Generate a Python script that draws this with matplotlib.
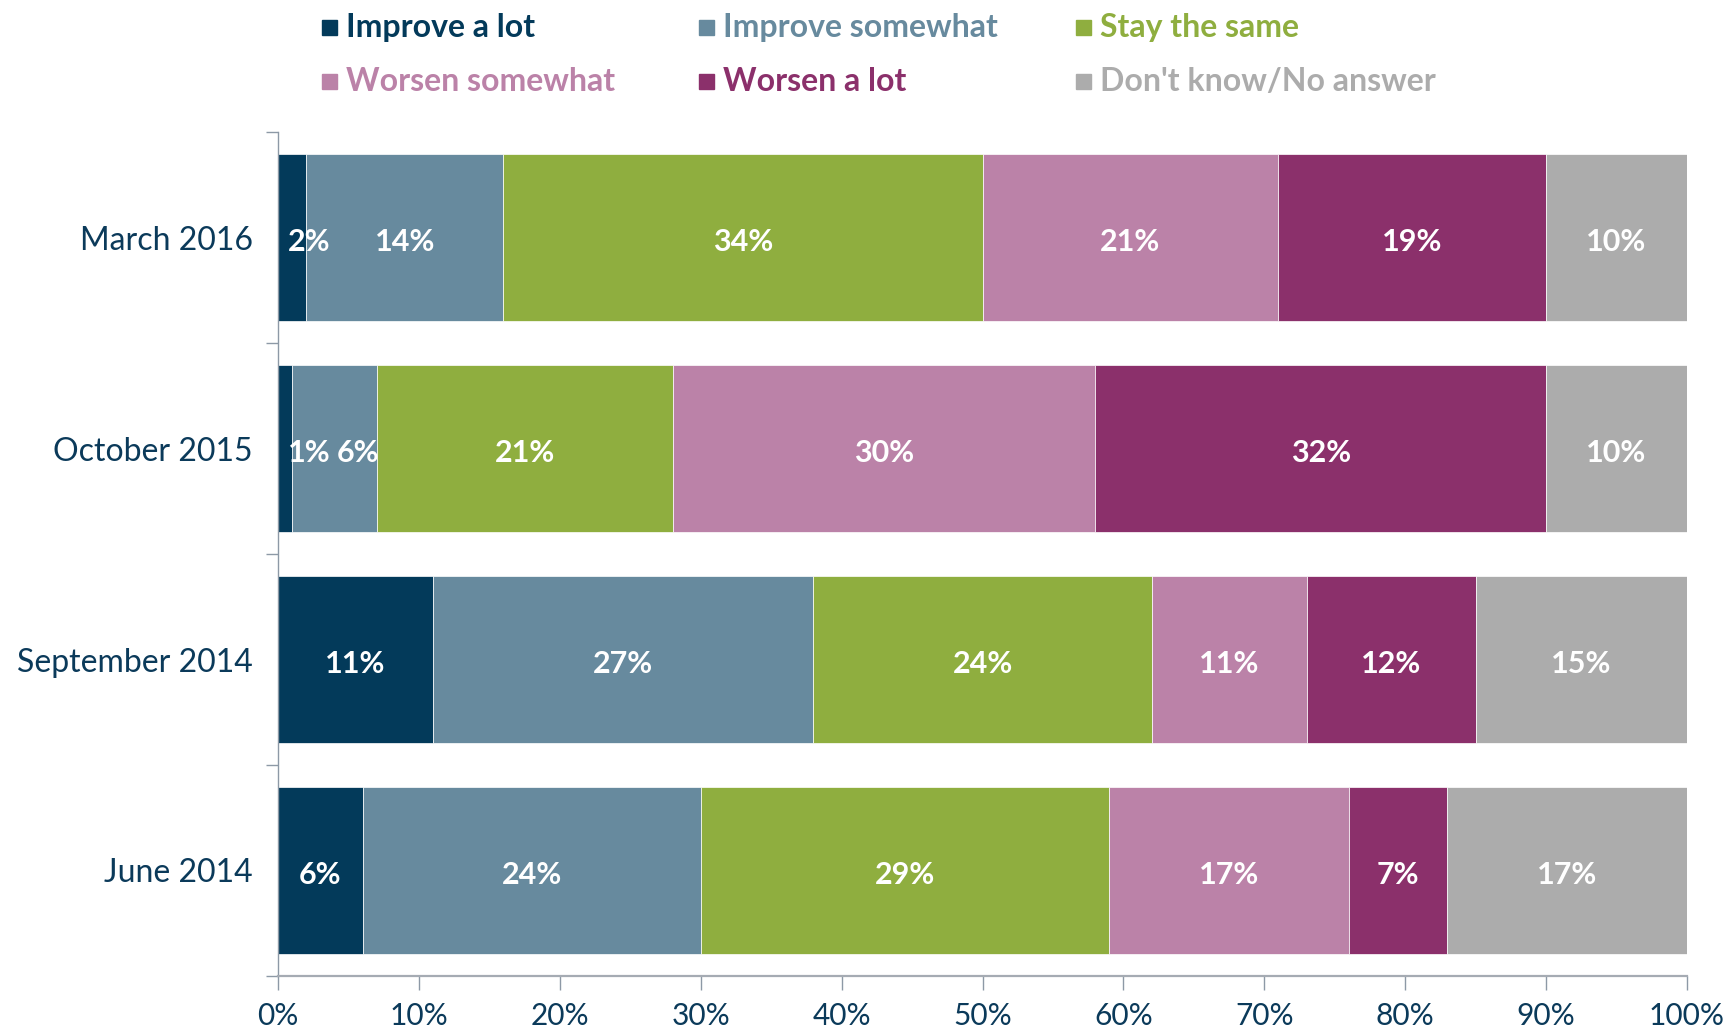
import matplotlib.pyplot as plt
import numpy as np
from matplotlib.patches import Rectangle

''' Data '''
periods = ["March 2016", "October 2015", "September 2014", "June 2014"]
series = ["Improve a lot", "Improve somewhat", "Stay the same",
          "Worsen somewhat", "Worsen a lot", "Don't know/No answer"]
improve_lot = [2, 1, 11, 6]
improve_some = [14, 6, 27, 24]
stay_same = [34, 21, 24, 29]
worsen_some = [21, 30, 11, 17]
worsen_lot = [19, 32, 12, 7]
dont_know = [10, 10, 15, 17]
x_ticks = [0, 10, 20, 30, 40, 50, 60, 70, 80, 90, 100]

''' Customize '''
colors = ["#033a5a", "#678a9e", "#8fae3f", "#bb82a8", "#8b306b", "#acacac"]
navy = "#0b3a5a"
axis_grey = "#8d99a6"
fnt = "Lato"
fs_leg = 23
fs_cat = 23
fs_x = 21.5
fs_bar = 22

values = np.array([improve_lot, improve_some, stay_same,
                   worsen_some, worsen_lot, dont_know], dtype=float)

W, H = 1727, 1031
fig = plt.figure(figsize=(W / 100, H / 100), dpi=100)
ax = fig.add_axes([278 / W, 1 - 976 / H, 1409 / W, 844 / H])

ypos = np.arange(len(periods))[::-1]
left = np.zeros(len(periods))
for k, name in enumerate(series):
    ax.barh(ypos, values[k], left=left, height=0.79, color=colors[k],
            edgecolor="white", linewidth=0.5, label=name)
    left += values[k]

# value labels, nudged right when small ones would collide
char_w = 1.5  # approx width per character in data units
for j in range(len(periods)):
    start = 0.0
    prev_right = -10.0
    for k in range(len(series)):
        v = values[k, j]
        txt = f"{int(v)}%"
        w = char_w * len(txt)
        if v < 3:
            xc = start + 0.7 + w / 2
        else:
            xc = max(start + v / 2, prev_right + 0.5 + w / 2)
        prev_right = xc + w / 2
        ax.text(xc, ypos[j] - 0.02, txt, ha="center", va="center",
                color="white", fontsize=fs_bar, fontweight="bold", family=fnt)
        start += v

ax.set_xlim(0, 100)
ax.set_ylim(-0.5, len(periods) - 0.5)
ax.set_xticks(x_ticks, labels=[f"{t}%" for t in x_ticks])
ax.set_yticks(ypos, labels=periods)
ax.set_yticks(np.arange(-0.5, len(periods)), minor=True)
ax.tick_params(axis="y", which="major", length=0, pad=18,
               labelsize=fs_cat, labelcolor=navy)
ax.tick_params(axis="y", which="minor", length=9, color=axis_grey, width=1)
ax.tick_params(axis="x", length=10, color=axis_grey, width=1, pad=9,
               labelsize=fs_x, labelcolor=navy)
for lab in ax.get_xticklabels() + ax.get_yticklabels():
    lab.set_family(fnt)

ax.spines[["top", "right"]].set_visible(False)
ax.spines["left"].set_color(axis_grey)
ax.spines["left"].set_linewidth(1)
ax.spines["bottom"].set_color("#a5abb3")
ax.spines["bottom"].set_linewidth(1.6)

''' Legend '''
col_x = [322, 699, 1076]
row_base = [37, 91]
for i, name in enumerate(series):
    cx = col_x[i % 3]
    by = row_base[i // 3]
    fig.add_artist(Rectangle((cx / W, 1 - (by - 2) / H), 15 / W, 15 / H,
                             transform=fig.transFigure, color=colors[i]))
    fig.text((cx + 24) / W, 1 - by / H, name, ha="left", va="baseline",
             color=colors[i], fontsize=fs_leg, fontweight="bold", family=fnt)

plt.savefig("out.png", dpi=100)
